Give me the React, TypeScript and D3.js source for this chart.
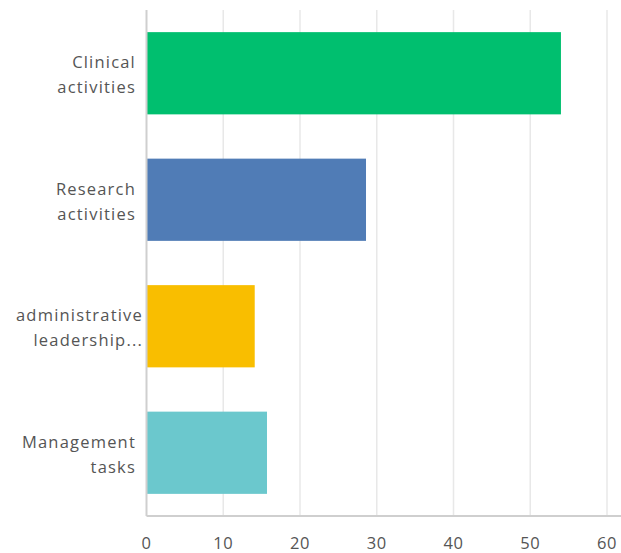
import React from "react";
import * as d3 from "d3";

const categories: string[][] = [
  ["Clinical", "activities"],
  ["Research", "activities"],
  ["administrative", "leadership..."],
  ["Management", "tasks"],
];
const values: number[] = [54, 28.6, 14.1, 15.7];
const colors: string[] = ["#00bf6f", "#507cb6", "#f9be00", "#6bc8cd"];
const ticks: number[] = [0, 10, 20, 30, 40, 50, 60];

const W = 621;
const H = 553;
const left = 146.5;
const right = 607;
const top = 10;
const bottom = 516;

export default function App() {
  const x = d3.scaleLinear().domain([0, 60]).range([left, right]);
  const y = d3
    .scaleBand<number>()
    .domain(values.map((_, i) => i))
    .range([top, bottom])
    .paddingInner(0.35)
    .paddingOuter(0.175);
  const font = "'Open Sans', sans-serif";
  return (
    <svg
      width={W}
      height={H}
      style={{ position: "absolute", left: 0, top: 0, background: "#fff" }}
    >
      {ticks.slice(1).map((t) => (
        <line
          key={"g" + t}
          x1={x(t)}
          x2={x(t)}
          y1={top}
          y2={bottom}
          stroke="#e8e8e8"
          strokeWidth={1.5}
        />
      ))}
      {values.map((v, i) => (
        <rect
          key={"b" + i}
          x={x(0)}
          y={y(i)!}
          width={x(v) - x(0)}
          height={y.bandwidth()}
          fill={colors[i]}
        />
      ))}
      <line x1={left} x2={left} y1={top} y2={bottom} stroke="#cfcfcf" strokeWidth={2} />
      <line x1={left} x2={W} y1={bottom} y2={bottom} stroke="#cfcfcf" strokeWidth={2} />
      {ticks.map((t) => (
        <text
          key={"t" + t}
          x={x(t)}
          y={549}
          textAnchor="middle"
          fontFamily={font}
          fontSize={16.5}
          letterSpacing={0.6}
          fill="#555"
        >
          {t}
        </text>
      ))}
      {categories.map((lines, i) => {
        const c = y(i)! + y.bandwidth() / 2;
        return (
          <text
            key={"c" + i}
            textAnchor="end"
            fontFamily={font}
            fontSize={16.5}
            letterSpacing={1.2}
            fill="#555"
          >
            {lines.map((l, j) => (
              <tspan key={j} x={i === 2 ? 143 : 136} y={c - 5 + j * 25}>
                {l}
              </tspan>
            ))}
          </text>
        );
      })}
    </svg>
  );
}
